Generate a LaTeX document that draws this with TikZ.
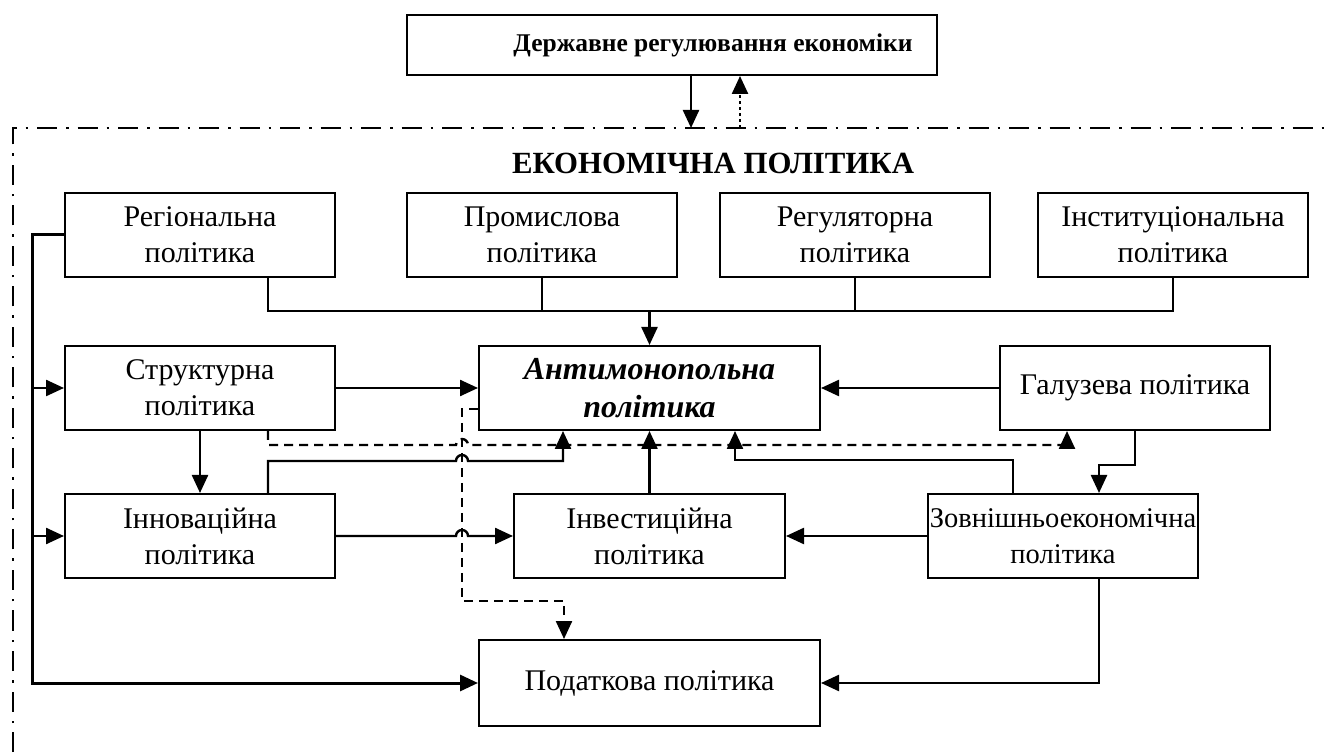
\documentclass[tikz,border=0pt]{standalone}
\usepackage{fontspec}
\setmainfont{Liberation Serif}
\usetikzlibrary{
  arrows.meta,
  positioning
}

\begin{document}
\begin{tikzpicture}[
  x=1pt, y=1pt,
  box/.style={
    rectangle, draw=black, line width=2pt,
    minimum width=270pt, minimum height=84pt,
    inner sep=0pt, align=center,
    font=\fontsize{30}{36}\selectfont
  },
  arr/.style={
    -{Triangle[length=18pt, width=16pt]}, line width=2.4pt
  },
  dasharr/.style={
    arr, dash pattern=on 9pt off 6pt
  },
  dotarr/.style={
    arr, dash pattern=on 3pt off 3pt
  },
  frameline/.style={
    line width=2.4pt, dash pattern=on 20pt off 9pt on 2.5pt off 9pt
  }
]
  \useasboundingbox (0,0) rectangle (1329,752);

  % State regulation and the policy frame
  \node[box, minimum width=530pt, minimum height=60pt,
    font=\fontsize{25.5}{28}\selectfont\bfseries] (state) at (672,707)
    {\hspace*{82pt}Державне регулювання економіки};
  \coordinate (frametop) at (13,624);
  \draw[frameline] (13,0) -- (frametop) -- (1329,624);
  \node[font=\fontsize{30.8}{36}\selectfont\bfseries] (econtitle) at (713,589)
    {ЕКОНОМІЧНА ПОЛІТИКА};

  \node[box] (regional) at (200,517) {Регіональна\\політика};
  \node[box] (industrial) at (542,517) {Промислова\\політика};
  \node[box] (regulatory) at (855,517) {Регуляторна\\політика};
  \node[box] (institutional) at (1173,517) {Інституціональна\\політика};

  \node[box, below=67pt of regional] (structural) {Структурна\\політика};
  \node[box, minimum width=341pt, font=\fontsize{32}{38}\selectfont\bfseries\itshape]
    (antimono) at (649.5,364) {Антимонопольна\\політика};
  \node[box] (sectoral) at (1135,364) {Галузева політика};

  \node[box, below=62pt of structural] (innov) {Інноваційна\\політика};
  \node[box, minimum width=271pt] (invest) at (649.5,216) {Інвестиційна\\політика};
  \node[box, font=\fontsize{28.5}{36}\selectfont] (foreign) at (1063,216)
    {Зовнішньоекономічна\\політика};

  \node[box, minimum width=341pt, minimum height=86pt] (tax) at (649.5,69)
    {Податкова політика};

  \coordinate (hub) at ([yshift=34pt]antimono.north);
  \coordinate (bus) at ([xshift=-32pt]regional.west);
  \coordinate (drop) at ([xshift=-16pt, yshift=-21pt]antimono.west);

  \draw[arr] ([xshift=19pt]state.south) -- ([xshift=19pt]state.south |- frametop);
  \draw[dotarr] ([xshift=68pt]state.south |- frametop) -- ([xshift=68pt]state.south);

  % Top row into the antimonopoly box
  \draw[line width=2.4pt] ([xshift=68pt]regional.south) |- (hub) -| (institutional.south);
  \draw[line width=2.4pt] (industrial.south) -- (industrial.south |- hub);
  \draw[line width=2.4pt] (regulatory.south) -- (regulatory.south |- hub);
  \draw[arr] (hub) -- (antimono.north);

  % Left bus
  \draw[arr, line width=3pt] (regional.west) -- (bus) |- (tax.west);
  \draw[arr] (bus |- structural) -- (structural.west);
  \draw[arr] (bus |- innov) -- (innov.west);

  \draw[arr] (structural.east) -- (antimono.west);
  \draw[arr] (sectoral.west) -- (antimono.east);
  \draw[arr] (structural.south) -- (innov.north);
  \draw[arr] (invest.north) -- (antimono.south);
  \draw[arr] (foreign.west) -- (invest.east);
  \draw[arr] (sectoral.south) -- ++(0,-34) -| ([xshift=36pt]foreign.north);
  \draw[arr] ([xshift=-50pt]foreign.north) -- ++(0,33) -| ([xshift=85.5pt]antimono.south);
  \draw[arr] ([xshift=36pt]foreign.south) |- (tax.east);

  % Lines that jump over the dashed drop
  \draw[arr] ([xshift=68pt]innov.north) |- ([xshift=-6pt]drop |- 0,291)
    arc[start angle=180, end angle=0, radius=6pt] -| ([xshift=-86.5pt]antimono.south);
  \draw[arr] (innov.east) -- ([xshift=-6pt]drop |- innov.east)
    arc[start angle=180, end angle=0, radius=6pt] -- (invest.west);
  \draw[dasharr] ([xshift=68pt]structural.south) |- ([xshift=-6pt]drop |- 0,307)
    arc[start angle=180, end angle=0, radius=6pt] -| ([xshift=-68pt]sectoral.south);

  % Dashed drop to the tax box
  \draw[dasharr] ([yshift=-21pt]antimono.west) -- (drop) -- ++(0,-192)
    -| ([xshift=-85.5pt]tax.north);
\end{tikzpicture}
\end{document}
